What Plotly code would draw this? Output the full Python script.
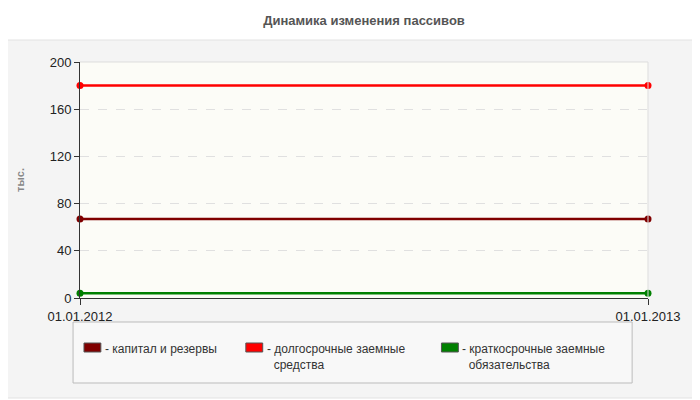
import plotly.graph_objects as go

# ---------- datos ----------
fechas = ["2012-01-01", "2013-01-01"]
etiquetas_fechas = ["01.01.2012", "01.01.2013"]
capital = [67, 67]
largo_plazo = [180, 180]
corto_plazo = [4, 4]

series = [
    ("капитал и резервы", capital, "#800000"),
    ("долгосрочные заемные<br>средства", largo_plazo, "#ff0000"),
    ("краткосрочные заемные<br>обязательства", corto_plazo, "#008000"),
]

fig = go.Figure()
for nombre, vals, color in series:
    fig.add_trace(go.Scatter(
        x=fechas, y=vals, mode="lines+markers", name=nombre,
        line=dict(color=color, width=2.5),
        marker=dict(color=color, size=7),
        cliponaxis=False, showlegend=False,
    ))

# la pagina desplaza la figura 8px (margen del body)
OFF = 8
W, H = 700, 400
L, T = 76 - OFF, 62 - OFF
pw, ph = 572, 236
R, B = W - L - pw, H - T - ph
px_ = lambda x: (x - OFF - L) / pw
py_ = lambda y: (T + ph - (y - OFF)) / ph

# panel gris de fondo
fig.add_shape(type="rect", xref="paper", yref="paper", layer="below",
              x0=px_(1), x1=px_(698), y0=py_(398), y1=py_(40),
              fillcolor="#f4f4f4", line=dict(color="#e2e2e2", width=1))
# fondo del area de trazado
fig.add_shape(type="rect", xref="paper", yref="paper", layer="below",
              x0=0, x1=1, y0=0, y1=1, fillcolor="#fcfcf7", line=dict(width=0))
# caja de la leyenda
fig.add_shape(type="rect", xref="paper", yref="paper",
              x0=px_(69), x1=px_(632), y0=py_(383), y1=py_(322),
              fillcolor="#f8f8f8", line=dict(color="#bbbbbb", width=1))

# leyenda manual
posiciones = [80, 243, 440]
for (nombre, vals, color), xp in zip(series, posiciones):
    fig.add_shape(type="rect", xref="paper", yref="paper",
                  x0=px_(xp), x1=px_(xp + 17), y0=py_(352), y1=py_(343),
                  fillcolor=color, line=dict(color="#555", width=1))
    fig.add_annotation(xref="paper", yref="paper", x=px_(xp + 19), y=py_(340),
                       xanchor="left", yanchor="top", showarrow=False, align="left",
                       text="- " + nombre.replace("<br>", "<br>  "),
                       font=dict(size=12, color="#333"))

fig.update_layout(
    width=W, height=H,
    margin=dict(l=L, r=R, t=T, b=B),
    paper_bgcolor="white", plot_bgcolor="rgba(0,0,0,0)",
    font=dict(family="Liberation Sans, Arial, sans-serif", color="#222"),
    title=dict(text="<b>Динамика изменения пассивов</b>", x=0.5, xref="paper",
               y=1 - (20 - OFF) / H, yanchor="middle", font=dict(size=13, color="#555")),
    showlegend=False,
)
fig.update_xaxes(
    type="date", range=fechas, tickvals=fechas, ticktext=etiquetas_fechas,
    showgrid=False, showline=True, linecolor="#333", ticks="outside",
    ticklen=6, tickcolor="#333", tickfont=dict(size=13, color="#222"),
    mirror=False, zeroline=False,
)
fig.update_yaxes(
    range=[0, 200], tickvals=[0, 40, 80, 120, 160, 200],
    showgrid=True, gridcolor="#e0e0e0", griddash="dash",
    showline=True, linecolor="#333", ticks="outside", ticklen=5, tickcolor="#333",
    tickfont=dict(size=13, color="#222"), zeroline=False,
    title=dict(text="<b>тыс.</b>", font=dict(size=11, color="#888"), standoff=22),
)
# borde superior y derecho claros
fig.add_shape(type="line", xref="paper", yref="paper", x0=0, x1=1, y0=1, y1=1,
              line=dict(color="#dddddd", width=1))
fig.add_shape(type="line", xref="paper", yref="paper", x0=1, x1=1, y0=0, y1=1,
              line=dict(color="#dddddd", width=1))

fig.write_html("out.html")
